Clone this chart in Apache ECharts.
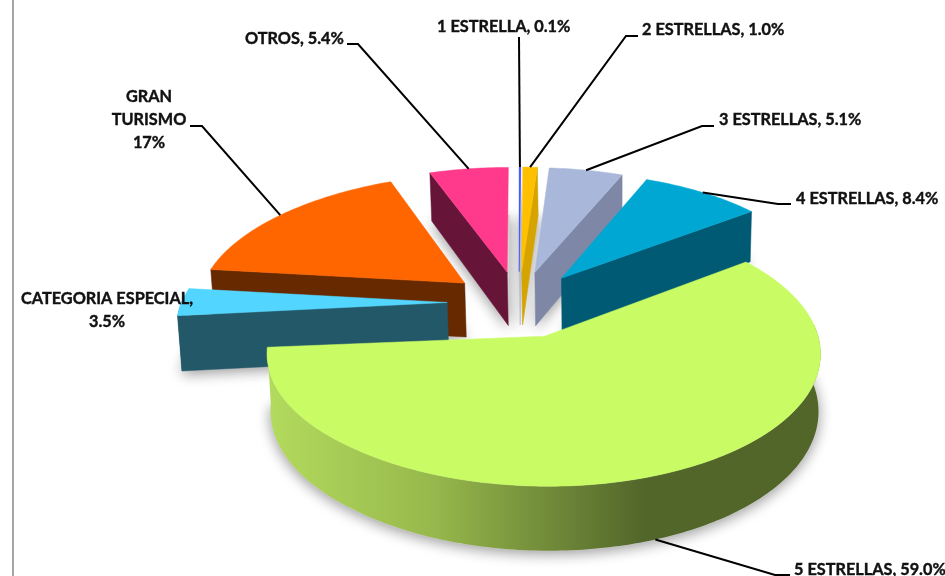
<!DOCTYPE html>
<html>
<head>
<meta charset="utf-8">
<title>Categorias</title>
<script src="https://cdn.jsdelivr.net/npm/echarts@6/dist/echarts.min.js"></script>
<style>
  html, body { margin: 0; padding: 0; background: #fff; }
  #main { width: 945px; height: 576px; }
</style>
</head>
<body>
<div id="main"></div>
<script>
// datos del grafico (en orden de las agujas del reloj desde arriba)
var categories = ['1 ESTRELLA', '2 ESTRELLAS', '3 ESTRELLAS', '4 ESTRELLAS', '5 ESTRELLAS', 'CATEGORIA ESPECIAL', 'GRAN TURISMO', 'OTROS'];
var values = [0.1, 1.0, 5.1, 8.4, 59.0, 3.5, 17, 5.4];
var labelTexts = ['1 ESTRELLA, 0.1%', '2 ESTRELLAS, 1.0%', '3 ESTRELLAS, 5.1%', '4 ESTRELLAS, 8.4%', '5 ESTRELLAS, 59.0%', 'CATEGORIA ESPECIAL,\n3.5%', 'GRAN\nTURISMO\n17%', 'OTROS, 5.4%'];
var topColors = ['#3048ff', '#ffc000', '#a9b8da', '#00a7d3', '#c9fc64', '#52d6ff', '#ff6600', '#ff3a8c'];
var wallColors = ['#b9bdd0', '#d5a400', '#7e88a6', '#005a74', '#52662a', '#235868', '#662900', '#661538'];

// orden de pintado: de atras hacia delante
var drawOrder = [6, 7, 0, 1, 2, 3, 5, 4];

// camara y tamano del pastel
var cx = 519, cy = 304;
var radius = 268, explode = 72, depth = 55;
var tilt = 0.463, persp = 0.00044, leftShear = 0.027;

// caja de cada etiqueta: x, y, alineacion, codo y final de la guia
var labelLayout = [
  { x: 437, y: 27, align: 'left', line: [[519, 37]] },
  { x: 642, y: 30, align: 'left', line: [[638, 36], [626, 36]] },
  { x: 719, y: 120, align: 'left', line: [[714, 126], [702, 126]] },
  { x: 796, y: 199, align: 'left', line: [[791, 204], [778, 204]] },
  { x: 794, y: 570, align: 'left', line: [[790, 575], [775, 575]], onBase: true },
  { x: 107, y: 310, align: 'center', line: null },
  { x: 149, y: 120, align: 'center', line: [[190, 126], [202, 126]] },
  { x: 245, y: 39, align: 'left', line: [[347, 44], [358, 44]] }
];

var total = values.reduce(function (a, b) { return a + b; }, 0);
var startAngles = [];
var sum = 0;
values.forEach(function (v) {
  startAngles.push(sum / total * 360);
  sum += v;
});

function rad(a) { return a * Math.PI / 180; }

// punto del disco (angulo, distancia al vertice) de una porcion, en pantalla
function project(i, angle, dist, low) {
  var mid = rad(startAngles[i] + values[i] / total * 180);
  var a = rad(angle);
  var X = explode * Math.sin(mid) + dist * Math.sin(a);
  var Y = -explode * Math.cos(mid) - dist * Math.cos(a);
  var s = 1 / (1 - persp * Y);
  var px = X * s * (X > 0 ? 0.99 : 1);
  var py = Y * tilt * s + leftShear * Math.max(-X - 150, 0);
  if (low) {
    px = px * 0.99 + 1;
    py += depth * s;
  }
  return [cx + px, cy + py];
}

function arcPoints(i, low, from, to) {
  var a0 = from === undefined ? startAngles[i] : from;
  var a1 = to === undefined ? startAngles[i] + values[i] / total * 360 : to;
  var pts = [];
  var steps = Math.max(2, Math.ceil(a1 - a0));
  for (var k = 0; k <= steps; k++) {
    pts.push(project(i, a0 + (a1 - a0) * k / steps, radius, low));
  }
  return pts;
}

function poly(points, fill, extra) {
  var style = { fill: fill, stroke: fill, lineWidth: 0.5 };
  for (var key in extra) { style[key] = extra[key]; }
  return { type: 'polygon', shape: { points: points }, style: style, silent: true };
}

function radialWall(i, angle, fill) {
  return poly([
    project(i, angle, 0, false),
    project(i, angle, radius, false),
    project(i, angle, radius, true),
    project(i, angle, 0, true)
  ], fill);
}

function renderShadow(params, api) {
  var i = api.value(0);
  var base = arcPoints(i, true);
  base.unshift(project(i, 0, 0, true));
  return poly(base, '#d8d8d8', {
    shadowBlur: 14,
    shadowColor: 'rgba(0,0,0,0.4)',
    shadowOffsetY: 3
  });
}

function renderSlice(params, api) {
  var i = api.value(0);
  var a0 = startAngles[i];
  var a1 = a0 + values[i] / total * 360;
  var children = [];

  // pared exterior, solo la parte que mira a la camara
  var from = Math.max(a0, 85);
  var to = Math.min(a1, 275);
  if (to > from) {
    var wallFill = wallColors[i];
    if (i === 4) {
      wallFill = new echarts.graphic.LinearGradient(0, 0, 1, 0, [
        { offset: 0, color: '#b3db5d' },
        { offset: 0.3, color: '#97b84c' },
        { offset: 0.68, color: '#52662a' },
        { offset: 1, color: '#52662a' }
      ]);
    }
    children.push(poly(arcPoints(i, false, from, to).concat(arcPoints(i, true, from, to).reverse()), wallFill, { lineWidth: 0 }));
  }

  // paredes radiales que miran a la camara
  if (Math.sin(rad(a0)) < 0) children.push(radialWall(i, a0, wallColors[i]));
  if (Math.sin(rad(a1)) > 0) children.push(radialWall(i, a1, wallColors[i]));

  // cara superior
  children.push(poly([project(i, a0, 0, false)].concat(arcPoints(i, false)), topColors[i]));
  return { type: 'group', children: children };
}

function renderLabel(params, api) {
  var i = api.value(0);
  var lay = labelLayout[i];
  var children = [];
  if (lay.line) {
    var midAngle = startAngles[i] + values[i] / total * 180;
    var pts = lay.line.concat([project(i, midAngle, radius, !!lay.onBase)]);
    children.push({
      type: 'polyline',
      shape: { points: pts },
      style: { stroke: '#000', lineWidth: 2, fill: null },
      silent: true
    });
  }
  children.push({
    type: 'text',
    silent: true,
    style: {
      x: lay.x,
      y: lay.y,
      text: labelTexts[i],
      fill: '#111',
      stroke: '#111',
      lineWidth: 0.4,
      font: 'bold 16.3px Lato, sans-serif',
      lineHeight: 23,
      align: lay.align,
      verticalAlign: 'middle'
    }
  });
  return { type: 'group', children: children };
}

var orderData = drawOrder.map(function (i) { return [i]; });
var labelData = categories.map(function (name, i) { return [i]; });

var myChart = echarts.init(document.getElementById('main'), null, { renderer: 'canvas' });
myChart.setOption({
  animation: false,
  backgroundColor: '#fff',
  graphic: [{
    type: 'line',
    shape: { x1: 13, y1: 0, x2: 13, y2: 576 },
    style: { stroke: '#a6a6a6', lineWidth: 2 },
    silent: true
  }],
  series: [
    { type: 'custom', coordinateSystem: 'none', renderItem: renderShadow, data: orderData, silent: true, z: 1 },
    { type: 'custom', coordinateSystem: 'none', renderItem: renderSlice, data: orderData, silent: true, z: 2 },
    { type: 'custom', coordinateSystem: 'none', renderItem: renderLabel, data: labelData, silent: true, z: 3 }
  ]
});
</script>
</body>
</html>
